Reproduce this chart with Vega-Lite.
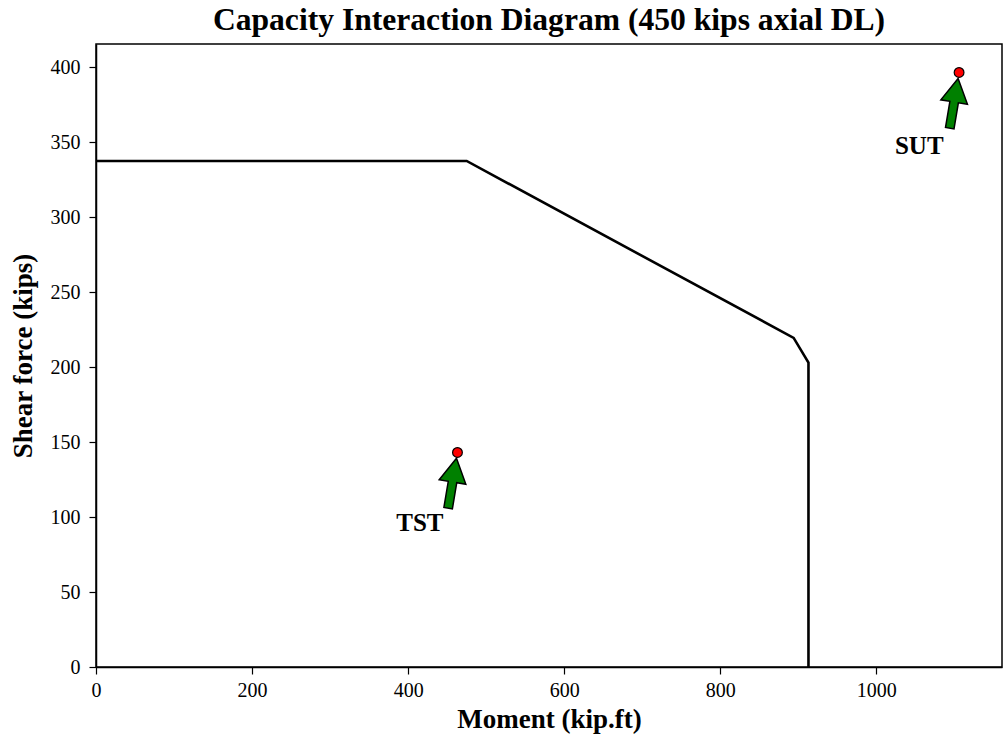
{
  "$schema": "https://vega.github.io/schema/vega-lite/v6.json",
  "width": 906,
  "height": 623,
  "autosize": "none",
  "padding": {"left": 96, "top": 44, "right": 3, "bottom": 73},
  "background": "white",
  "title": {
    "text": "Capacity Interaction Diagram (450 kips axial DL)",
    "font": "Liberation Serif",
    "fontSize": 31.6,
    "fontWeight": "bold",
    "color": "black",
    "anchor": "middle",
    "baseline": "alphabetic",
    "offset": 12,
    "dy": 30
  },
  "config": {
    "view": {"stroke": "black", "strokeWidth": 1.5},
    "axis": {
      "grid": false,
      "domainColor": "black",
      "domainWidth": 1.5,
      "tickColor": "black",
      "tickWidth": 1.2,
      "tickSize": 7,
      "labelFont": "Liberation Serif",
      "labelFontSize": 20,
      "labelColor": "black",
      "labelFlush": false,
      "titleFont": "Liberation Serif",
      "titleFontSize": 27,
      "titleFontWeight": "bold",
      "titleColor": "black"
    }
  },
  "datasets": {
    "capacity": [
      {"step": 1, "moment": 0, "shear": 337.5},
      {"step": 2, "moment": 475, "shear": 337.5},
      {"step": 3, "moment": 894, "shear": 219.5},
      {"step": 4, "moment": 913, "shear": 203},
      {"step": 5, "moment": 913, "shear": 0}
    ],
    "demand": [
      {"label": "TST", "moment": 463.2, "shear": 143.1, "text_moment": 415, "text_shear": 96},
      {"label": "SUT", "moment": 1106, "shear": 396.5, "text_moment": 1055, "text_shear": 347.7}
    ]
  },
  "layer": [
    {
      "data": {"name": "capacity"},
      "mark": {"type": "line", "color": "black", "strokeWidth": 2.6},
      "encoding": {
        "x": {
          "field": "moment",
          "type": "quantitative",
          "scale": {"domain": [0, 1161], "nice": false, "zero": false},
          "axis": {
            "title": "Moment (kip.ft)",
            "values": [0, 200, 400, 600, 800, 1000],
            "format": "d",
            "labelPadding": 6,
            "titleBaseline": "alphabetic",
            "titleY": 60
          }
        },
        "y": {
          "field": "shear",
          "type": "quantitative",
          "scale": {"domain": [0, 415.5], "nice": false, "zero": false},
          "axis": {
            "title": "Shear force (kips)",
            "values": [0, 50, 100, 150, 200, 250, 300, 350, 400],
            "format": "d",
            "labelPadding": 9,
            "titleBaseline": "alphabetic",
            "titleX": -65
          }
        },
        "order": {"field": "step", "type": "quantitative"}
      }
    },
    {
      "data": {"name": "demand"},
      "mark": {
        "type": "point",
        "shape": "M0,0.6 L1.35,3.0 L0.43,3.0 L0.43,5.65 L-0.43,5.65 L-0.43,3.0 L-1.35,3.0 Z",
        "size": 400,
        "angle": 9.5,
        "filled": true,
        "fill": "#008000",
        "stroke": "black",
        "strokeWidth": 1.5,
        "opacity": 1
      },
      "encoding": {
        "x": {"field": "moment", "type": "quantitative"},
        "y": {"field": "shear", "type": "quantitative"}
      }
    },
    {
      "data": {"name": "demand"},
      "mark": {
        "type": "point",
        "shape": "circle",
        "size": 95,
        "filled": true,
        "fill": "red",
        "stroke": "black",
        "strokeWidth": 1.2,
        "opacity": 1
      },
      "encoding": {
        "x": {"field": "moment", "type": "quantitative"},
        "y": {"field": "shear", "type": "quantitative"}
      }
    },
    {
      "data": {"name": "demand"},
      "mark": {
        "type": "text",
        "font": "Liberation Serif",
        "fontSize": 25,
        "fontWeight": "bold",
        "color": "black",
        "align": "center",
        "baseline": "middle"
      },
      "encoding": {
        "x": {"field": "text_moment", "type": "quantitative"},
        "y": {"field": "text_shear", "type": "quantitative"},
        "text": {"field": "label"}
      }
    }
  ]
}
